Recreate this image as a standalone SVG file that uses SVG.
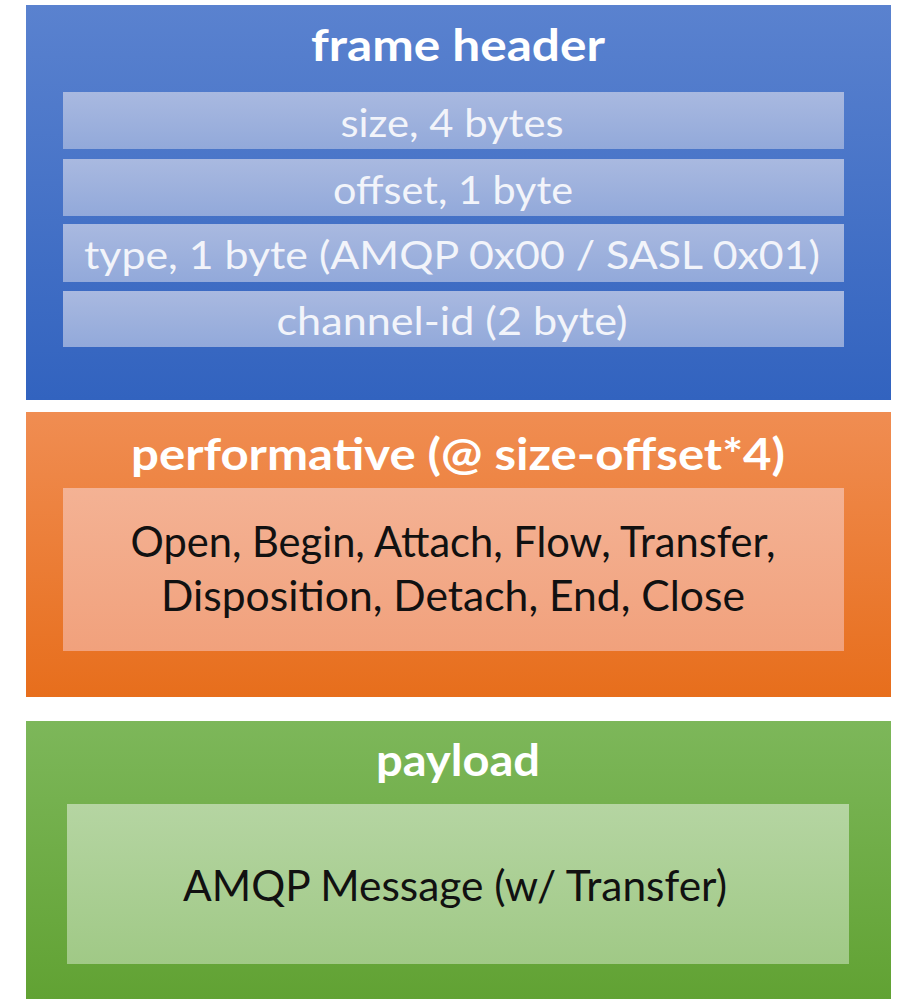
<svg xmlns="http://www.w3.org/2000/svg" width="899" height="999" viewBox="0 0 899 999">
  <defs>
    <linearGradient id="gBlue" x1="0" y1="0" x2="0" y2="1">
      <stop offset="0" stop-color="#5a82cf"/>
      <stop offset="1" stop-color="#3263bf"/>
    </linearGradient>
    <linearGradient id="gBlueRow" x1="0" y1="0" x2="0" y2="1">
      <stop offset="0" stop-color="#a9b9e0"/>
      <stop offset="1" stop-color="#92a9da"/>
    </linearGradient>
    <linearGradient id="gOrange" x1="0" y1="0" x2="0" y2="1">
      <stop offset="0" stop-color="#f08d52"/>
      <stop offset="1" stop-color="#e76e1c"/>
    </linearGradient>
    <linearGradient id="gOrangeIn" x1="0" y1="0" x2="0" y2="1">
      <stop offset="0" stop-color="#f4b294"/>
      <stop offset="1" stop-color="#f1a17c"/>
    </linearGradient>
    <linearGradient id="gGreen" x1="0" y1="0" x2="0" y2="1">
      <stop offset="0" stop-color="#7db75a"/>
      <stop offset="1" stop-color="#61a233"/>
    </linearGradient>
    <linearGradient id="gGreenIn" x1="0" y1="0" x2="0" y2="1">
      <stop offset="0" stop-color="#b5d5a2"/>
      <stop offset="1" stop-color="#a0c986"/>
    </linearGradient>
  </defs>
  <style>
    text { font-family: Lato, "Liberation Sans", sans-serif; text-anchor: middle; }
    .title { font-weight: bold; font-size: 43px; fill: #ffffff; }
    .row { font-size: 38px; fill: #f2f4fa; }
    .body { font-size: 43px; fill: #111111; }
  </style>
  <rect width="899" height="999" fill="#ffffff"/>

  <!-- frame header block -->
  <g id="frame-header">
    <rect x="26" y="5" width="865" height="395" fill="url(#gBlue)"/>
    <text class="title" x="458" y="61" textLength="294" lengthAdjust="spacingAndGlyphs">frame header</text>
    <rect x="63" y="92" width="781" height="57" fill="url(#gBlueRow)"/>
    <text class="row" x="452" y="137" textLength="223" lengthAdjust="spacingAndGlyphs">size, 4 bytes</text>
    <rect x="63" y="159" width="781" height="57" fill="url(#gBlueRow)"/>
    <text class="row" x="453" y="204" textLength="240" lengthAdjust="spacingAndGlyphs">offset, 1 byte</text>
    <rect x="63" y="224" width="781" height="58" fill="url(#gBlueRow)"/>
    <text class="row" x="452" y="269" textLength="736" lengthAdjust="spacingAndGlyphs">type, 1 byte (AMQP 0x00 / SASL 0x01)</text>
    <rect x="63" y="291" width="781" height="56" fill="url(#gBlueRow)"/>
    <text class="row" x="452" y="335" textLength="351" lengthAdjust="spacingAndGlyphs">channel-id (2 byte)</text>
  </g>

  <!-- performative block -->
  <g id="performative">
    <rect x="26" y="412" width="865" height="285" fill="url(#gOrange)"/>
    <text class="title" x="458" y="470" textLength="654" lengthAdjust="spacingAndGlyphs">performative (@ size-offset*4)</text>
    <rect x="63" y="488" width="781" height="163" fill="url(#gOrangeIn)"/>
    <text class="body" x="453" y="557" textLength="645" lengthAdjust="spacingAndGlyphs">Open, Begin, Attach, Flow, Transfer,</text>
    <text class="body" x="453" y="611" textLength="584" lengthAdjust="spacingAndGlyphs">Disposition, Detach, End, Close</text>
  </g>

  <!-- payload block -->
  <g id="payload">
    <rect x="26" y="721" width="865" height="278" fill="url(#gGreen)"/>
    <text class="title" x="458" y="776" textLength="164" lengthAdjust="spacingAndGlyphs">payload</text>
    <rect x="67" y="804" width="782" height="160" fill="url(#gGreenIn)"/>
    <text class="body" x="455" y="901" textLength="544" lengthAdjust="spacingAndGlyphs">AMQP Message (w/ Transfer)</text>
  </g>
</svg>
